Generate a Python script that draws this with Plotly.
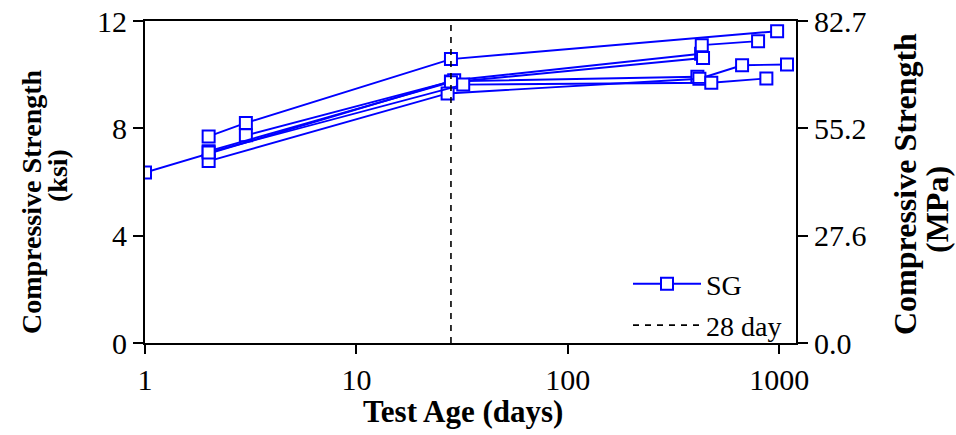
import numpy as np
import plotly.graph_objects as go

# Compressive strength of SG concrete sets: test age (days) vs strength (ksi)
age_a = [2, 3, 28, 977]
fc_a = [7.70, 8.20, 10.58, 11.62]

age_b = [3, 28, 410]
fc_b = [7.74, 9.75, 9.92]

age_c = [1, 29, 427]
fc_c = [6.35, 9.79, 10.78]

age_d = [2, 28, 436]
fc_d = [7.15, 9.72, 10.62]

age_e = [2, 27, 419, 667, 1088]
fc_e = [6.78, 9.30, 9.85, 10.35, 10.38]

age_f = [2, 32, 477, 869]
fc_f = [7.10, 9.63, 9.70, 9.86]

age_g = [430, 794]
fc_g = [11.10, 11.25]

series = [(age_a, fc_a), (age_b, fc_b), (age_c, fc_c), (age_d, fc_d),
          (age_e, fc_e), (age_f, fc_f), (age_g, fc_g)]

# 28-day reference line, spanning the full strength range
ref_age = [28, 28]
ref_fc = [0, 12]

ksi_ticks = [0, 4, 8, 12]
KSI_TO_MPA = 6.894757
mpa_ticks = [0, 27.6, 55.2, 82.7]

FONT = "Liberation Serif"
BLUE = "#0000FF"

# plot-area geometry in pixels
W, H = 956, 435
L, R, T, B = 145, 160, 21, 92
PW, PH = W - L - R, H - T - B


def px_x(x):
    return (x - L) / PW


def px_y(y):
    return (H - B - y) / PH


fig = go.Figure()

for i, (age, fc) in enumerate(series):
    fig.add_trace(go.Scatter(
        x=age, y=fc, mode="lines+markers",
        name="SG", legendgroup="sg", showlegend=(i == 0), legendrank=1,
        line=dict(color=BLUE, width=1.9),
        marker=dict(symbol="square", size=12, color="white",
                    line=dict(color=BLUE, width=2)),
    ))

# drawn on the MPa axis so that the right-hand scale is rendered
fig.add_trace(go.Scatter(
    x=ref_age, y=[v * KSI_TO_MPA for v in ref_fc], yaxis="y2",
    mode="lines", name="28 day", legendgroup="ref", legendrank=2,
    line=dict(color="black", width=1.6, dash="6px,6px"),
))

axis_font = dict(family=FONT, size=30, color="black")

fig.update_layout(
    width=W, height=H,
    margin=dict(l=L, r=R, t=T, b=B, pad=0, autoexpand=False),
    paper_bgcolor="white", plot_bgcolor="white",
    font=dict(family=FONT, color="black"),
    showlegend=True,
    legend=dict(
        x=px_x(628), y=px_y(259), xanchor="left", yanchor="top",
        font=dict(family=FONT, size=28, color="black"),
        bgcolor="rgba(0,0,0,0)", borderwidth=0,
        itemwidth=68, tracegroupgap=2,
    ),
    xaxis=dict(
        type="log", range=[0, np.log10(1200)], automargin=False,
        tickvals=[1, 10, 100, 1000], ticktext=["1", "10", "100", "1000"],
        ticks="outside", ticklen=9, tickwidth=1.5, tickcolor="black",
        showline=True, linecolor="black", linewidth=2, mirror=True,
        showgrid=False, zeroline=False, tickfont=axis_font,
    ),
    yaxis=dict(
        range=[0, 12], tickvals=ksi_ticks, automargin=False,
        ticks="outside", ticklen=10, tickwidth=1.5, tickcolor="black",
        showline=True, linecolor="black", linewidth=2,
        showgrid=False, zeroline=False, tickfont=axis_font,
    ),
    yaxis2=dict(
        overlaying="y", side="right", range=[0, 12 * KSI_TO_MPA],
        automargin=False,
        tickvals=mpa_ticks, ticktext=[f"{v:.1f}" for v in mpa_ticks],
        ticks="outside", ticklen=10, tickwidth=1.5, tickcolor="black",
        showline=True, linecolor="black", linewidth=2,
        showgrid=False, zeroline=False, tickfont=axis_font,
    ),
)

title_font = dict(family=FONT, color="black")
annots = [
    dict(text="<b>Test Age (days)</b>", x=px_x(463), y=px_y(411), size=31, angle=0),
    dict(text="<b>Compressive Strength</b>", x=px_x(31), y=px_y(202), size=28, angle=-90),
    dict(text="<b>(ksi)</b>", x=px_x(57), y=px_y(176), size=28, angle=-90),
    dict(text="<b>Compressive Strength</b>", x=px_x(905), y=px_y(184), size=32, angle=-90),
    dict(text="<b>(MPa)</b>", x=px_x(937), y=px_y(210), size=32, angle=-90),
]
for a in annots:
    fig.add_annotation(
        text=a["text"], x=a["x"], y=a["y"], xref="paper", yref="paper",
        xanchor="center", yanchor="middle", showarrow=False,
        textangle=a["angle"], font=dict(title_font, size=a["size"]),
    )

fig.write_html("out.html")
